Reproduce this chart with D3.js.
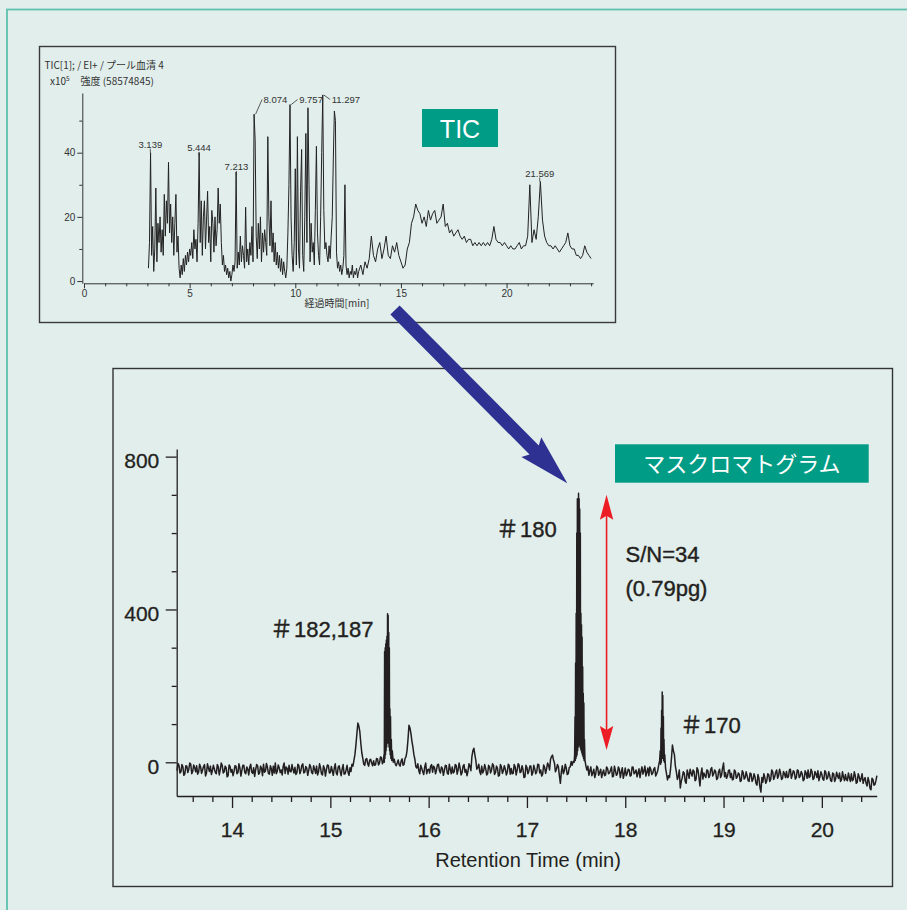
<!DOCTYPE html>
<html>
<head>
<meta charset="utf-8">
<title>TIC / マスクロマトグラム</title>
<script src="https://d3js.org/d3.v7.min.js"></script>
<style>
  body { margin: 0; background: #e1eeeb; }
  svg { display: block; }
</style>
</head>
<body>
<svg id="chart" width="907" height="910"></svg>

<script>
// ---------------- data ----------------

// TIC (upper panel): intensity x10^5, sampled every 0.05 min from 3.05 to 12.95
var ticEarlyT0 = 3.05, ticEarlyStep = 0.05;
var ticEarly = [
  4, 12, 40, 8, 17, 3, 10, 29, 6, 18, 12, 20, 9, 16, 8, 27, 14, 25, 18, 37,      // 3.05 - 4.00
  15, 24, 12, 20, 8, 18, 27, 9, 14, 4, 1, 5, 2, 7, 3, 8, 5, 9, 6, 10,             // 4.05 - 5.00
  8, 12, 7, 16, 10, 13, 6, 18, 40, 12, 25, 8, 20, 25, 10, 19, 28, 12, 17, 6,      // 5.05 - 6.00
  22, 18, 9, 20, 11, 16, 29, 18, 24, 12, 5, 8, 3, 5, 2, 4, 1, 3, 0, 2,            // 6.05 - 7.00
  5, 3, 6, 34, 4, 9, 5, 14, 6, 11, 8, 4, 23, 6, 10, 5, 12, 8, 17, 6,              // 7.05 - 8.00
  52, 44, 14, 7, 18, 10, 20, 6, 15, 9, 16, 12, 8, 45, 20, 11, 25, 9, 15, 6,       // 8.05 - 9.00
  12, 5, 9, 4, 8, 3, 7, 2, 6, 3, 1, 4, 15, 30, 55, 20, 8, 3, 12, 35,              // 9.05 - 10.00
  5, 45, 10, 4, 28, 41, 8, 3, 20, 46, 12, 54, 30, 6, 18, 9, 12, 5, 22, 42,        // 10.05 - 11.00
  15, 8, 5, 20, 40, 58, 22, 10, 12, 8, 6, 11, 7, 14, 20, 38, 53, 50, 9, 4,        // 11.05 - 12.00
  6, 3, 5, 2, 4, 8, 30, 5, 2, 4, 1, 3, 2, 5, 1, 3, 2, 4, 1                         // 12.05 - 12.95
];
// TIC, sampled every 0.1 min from 13.0 to 24.0
var ticLateT0 = 13.0, ticLateStep = 0.1;
var ticLate = [
  3, 5, 2, 6, 4, 7, 14, 8, 6, 10,          // 13
  12, 7, 10, 14, 8, 7, 11, 9, 12, 8,       // 14
  6, 4, 5, 10, 12, 18, 20, 24, 22, 21,     // 15
  18, 20, 17, 22, 19, 21, 22, 18, 19, 20,  // 16
  24, 17, 18, 15, 16, 14, 15, 16, 14, 13,  // 17
  14, 12, 13, 13, 11, 12, 11, 12, 11, 12,  // 18
  11, 12, 11, 13, 17, 13, 12, 12, 11, 12,  // 19
  11, 10, 11, 10, 10, 11, 12, 10, 11, 11,  // 20
  14, 30, 12, 16, 13, 20, 31, 19, 14, 12,  // 21
  11, 11, 10, 11, 10, 9, 10, 11, 12, 15,   // 22
  11, 10, 10, 8, 8, 7, 8, 11, 9, 8,        // 23
  7
];
var ticPeakTimes  = [3.139, 5.444, 7.213, 8.074, 9.757, 11.297, 21.569];
var ticPeakTops   = [40, 39, 33, 52, 55, 58, 31];
var ticPeakLabels = ["3.139", "5.444", "7.213", "8.074", "9.757", "11.297", "21.569"];
var ticPeakLeader = [false, false, false, true, true, true, false];
var ticXTicks = [0, 5, 10, 15, 20];
var ticXMinor = [1, 2, 3, 4, 6, 7, 8, 9, 11, 12, 13, 14, 16, 17, 18, 19, 21, 22, 23, 24];
var ticYTicks = [0, 20, 40];
var ticYMinor = [10, 30, 50];

// Mass chromatogram (lower panel): baseline read every 0.02 min from 13.44 to 20.56
var massT0 = 13.44, massStep = 0.02;
var massBase = [
  -22, -8, -25, -12, -30, -10, -18, -5, -24, -14,    // 13.44
  -9, -26, -12, -20, -6, -28, -15, -10, -22, -17,    // 13.64
  -30, -12, -20, -8, -25, -14, -35, -11, -19, -24,   // 13.84
  -10, -27, -15, -21, -8, -30, -18, -12, -26, -14,   // 14.04
  -20, -9, -28, -16, -5, -23, -13, -31, -17, -10,    // 14.24
  -2, -24, -14, -20, -11, -29, -16, -8, -25, -19,    // 14.44
  -13, -27, -9, -22, -4, -26, -15, -21, -12, -30,    // 14.64
  -18, -10, -25, -14, -33, -16, -20, -8, -27, -22,   // 14.84
  -15, -28, -12, -24, -17, -31, -20, -26, -14, -5,   // 15.04
  5, 45, 103, 80, 25, -5, 8, -4, 6, -2,              // 15.24
  4, -6, 9, -2, 12, 2, 6, 0, -4, 5,                  // 15.44
  -3, 8, -2, -6, 3, -8, 10, 30, 97, 75,              // 15.64
  40, 8, -15, -22, -8, -25, -12, -30, -18, -10,      // 15.84
  -26, -14, -20, -5, -28, -16, -22, -9, -31, -18,    // 16.04
  -12, -25, -8, -20, -15, -27, -6, -19, -24, -10,    // 16.24
  15, 37, 5, -14, -25, -10, -22, -16, -30, -12,      // 16.44
  -20, -8, -27, -15, -34, -11, -22, -18, -26, -9,    // 16.64
  -16, -29, -12, -21, -7, -25, -19, -38, -14, -22,   // 16.84
  -10, -27, -18, -24, -6, -20, -31, -13, -17, -8,    // 17.04
  8, 19, -2, -18, -12, -55, -9, -23, -15, -30,       // 17.24
  -12, -4, -8, 0, -6, -10, -15, -20, -28, -10,       // 17.44
  -22, -35, -18, -30, -14, -26, -40, -20, -33, -16,  // 17.64
  -28, -12, -36, -22, -30, -18, -25, -42, -15, -29,  // 17.84
  -20, -34, -13, -27, -38, -17, -24, -31, -10, -26,  // 18.04
  -35, -19, -28, -14, -30, -18, -25, -10, -8, -20,   // 18.24
  -30, -20, 45, 20, -25, -38, -67, -40, -28, -55,    // 18.44
  -30, -18, -36, -24, -45, -20, -62, -15, -28, -40,  // 18.64
  -22, -35, -14, -30, -25, -42, -18, -33, -2, -27,   // 18.84
  -36, -20, -29, -44, -24, -38, -31, -48, -27, -40,  // 19.04
  -35, -50, -30, -45, -38, -60, -42, -78, -52, -40,  // 19.24
  -48, -32, -44, -25, -38, -20, -35, -28, -42, -30,  // 19.44
  -24, -38, -18, -33, -26, -40, -22, -36, -30, -45,  // 19.64
  -28, -20, -37, -25, -42, -30, -22, -38, -32, -47,  // 19.84
  -26, -40, -34, -50, -30, -44, -36, -28, -46, -38,  // 20.04
  -32, -48, -40, -30, -45, -35, -52, -38, -42, -55,  // 20.24
  -40, -62, -50, -72, -45, -58, -35                  // 20.44
];
// in-between readings of the noisy baseline, every 0.02 min from 13.45 to 20.55
var massMidT0 = 13.45;
var massMid = [
  -3, -28, -6, -34, -9, -27, -2, -30, -7, -25,       // 13.45
  -31, -5, -29, -11, -36, -4, -24, -32, -8, -27,     // 13.65
  -6, -33, -2, -28, -10, -38, -7, -26, -35, -9,      // 13.85
  -30, -4, -36, -8, -27, -12, -33, -5, -29, -37,     // 14.05
  -6, -31, -10, -35, -26, -3, -29, -9, -34, -28,     // 14.25
  -30, -7, -27, -33, -2, -12, -31, -24, -6, -28,     // 14.45
  -32, -5, -30, -8, -28, -11, -34, -6, -27, -9,      // 14.65
  -29, -33, -4, -30, -9, -36, -7, -28, -11, -34,     // 14.85
  -4, -33, -9, -35, -6, -30, -8, -34, -24, -10,      // 15.05
  20, 75, 95, 50, 10, -8, 10, -10, 8, -9,            // 15.25
  -8, 10, -7, 14, -4, 10, -6, 12, -10, 8,            // 15.45
  10, -9, 6, -10, 9, -5, 15, 60, 90, 55,             // 15.65
  20, -12, -4, -30, -16, -32, -2, -20, -28, -6,      // 15.85
  -10, -30, -6, -22, -12, -34, -8, -29, -5, -30,     // 16.05
  -28, -6, -31, -2, -33, -10, -26, -35, -4, -22,     // 16.25
  30, 20, -18, -5, -32, -28, -6, -33, -8, -28,       // 16.45
  -4, -32, -10, -36, -6, -29, -9, -33, -5, -31,      // 16.65
  -30, -6, -33, -4, -27, -9, -40, -8, -30, -10,      // 16.85
  -34, -8, -30, -5, -28, -36, -7, -29, -2, -20,      // 17.05
  15, 6, -25, -6, -35, -25, -30, -5, -32, -14,       // 17.25
  2, -14, 5, -12, -20, -4, -30, -8, -18, -34,        // 17.45
  -12, -28, -40, -10, -34, -18, -28, -35, -12, -30,  // 17.65
  -20, -38, -10, -34, -12, -40, -14, -30, -35, -18,  // 17.85
  -36, -12, -30, -20, -28, -40, -12, -22, -36, -15,  // 18.05
  -12, -32, -18, -36, -10, -32, -12, -28, -30, -14,  // 18.25
  -40, 10, 30, -10, -45, -20, -50, -25, -50, -20,    // 18.45
  -42, -28, -20, -48, -14, -40, -30, -44, -35, -20,  // 18.65
  -40, -18, -36, -20, -45, -24, -40, -15, -38, -42,  // 18.85
  -22, -40, -46, -20, -42, -28, -50, -22, -44, -25,  // 19.05
  -48, -28, -50, -30, -55, -32, -65, -40, -30, -55,  // 19.25
  -30, -50, -20, -45, -26, -42, -18, -45, -24, -40,  // 19.45
  -40, -20, -42, -22, -44, -20, -40, -24, -48, -22,  // 19.65
  -42, -40, -18, -45, -24, -40, -48, -25, -44, -22,  // 19.85
  -44, -25, -48, -28, -50, -26, -42, -50, -25, -48,  // 20.05
  -45, -28, -50, -48, -25, -55, -30, -50, -30, -45,  // 20.25
  -55, -40, -68, -42, -60, -48                       // 20.45
];
// finely sampled peaks [time, intensity]
var peak182 = [
  [15.54, 2], [15.546, 20], [15.549, 0], [15.552, 290], [15.555, 10], [15.558, 300],
  [15.561, 20], [15.564, 310], [15.567, 30], [15.57, 320], [15.573, 40], [15.576, 330],
  [15.579, 50], [15.582, 389], [15.585, 60], [15.588, 385], [15.591, 50], [15.594, 340],
  [15.597, 40], [15.60, 300], [15.603, 30], [15.606, 140], [15.609, 20], [15.612, 120],
  [15.616, 10], [15.62, 60], [15.625, 5], [15.63, 30], [15.64, 0], [15.65, 8], [15.66, -4]
];
var peak180 = [
  [17.46, -8], [17.47, 2], [17.48, 0], [17.485, 20], [17.489, 119], [17.492, 5],
  [17.495, 260], [17.498, 10], [17.501, 390], [17.504, 15], [17.507, 600], [17.51, 20],
  [17.513, 690], [17.516, 30], [17.519, 680], [17.522, 40], [17.525, 704], [17.528, 50],
  [17.531, 690], [17.534, 45], [17.537, 663], [17.54, 40], [17.543, 600], [17.546, 35],
  [17.549, 390], [17.552, 30], [17.555, 360], [17.558, 25], [17.561, 328], [17.564, 20],
  [17.567, 250], [17.57, 15], [17.573, 180], [17.576, 10], [17.579, 155], [17.582, 5],
  [17.585, 60], [17.59, 6], [17.60, -10], [17.61, -20]
];
var peak170 = [
  [18.33, -22], [18.34, -8], [18.35, 5], [18.356, 30], [18.36, -5], [18.364, 90],
  [18.367, 0], [18.37, 136], [18.373, 10], [18.376, 184], [18.379, 15], [18.382, 175],
  [18.385, 10], [18.388, 120], [18.391, 5], [18.394, 60], [18.398, 0], [18.402, 20],
  [18.41, -15], [18.42, -30], [18.43, -46], [18.44, -35]
];
var massXTicks = [14, 15, 16, 17, 18, 19, 20];
var massXMinor = [13.6, 13.8, 14.2, 14.4, 14.6, 14.8, 15.2, 15.4, 15.6, 15.8, 16.2, 16.4, 16.6, 16.8,
                  17.2, 17.4, 17.6, 17.8, 18.2, 18.4, 18.6, 18.8, 19.2, 19.4, 19.6, 19.8, 20.2, 20.4];
var massYTicks = [0, 400, 800];
var massYMinor = [100, 200, 300, 500, 600, 700];

// ---------------- drawing ----------------

var LAT = '"Liberation Sans", Arial, Helvetica, sans-serif';
var JP = '"Noto Sans CJK JP", sans-serif';
var INK = "#231f20";
var TEAL = "#009c86";

var svg = d3.select("#chart");

// outer frame
svg.append("rect")
    .attr("x", 7).attr("y", 9.5).attr("width", 1000).attr("height", 1000)
    .attr("fill", "none").attr("stroke", "#5fc0ae").attr("stroke-width", 1.8);

function styleAxis(g, color, fontSize, family, width) {
    g.select(".domain").attr("stroke", color).attr("stroke-width", width);
    g.selectAll(".tick line").attr("stroke", color).attr("stroke-width", width);
    g.selectAll(".tick text").attr("fill", color)
        .attr("font-size", fontSize).attr("font-family", family);
}

// ===== TIC panel =====
svg.append("rect")
    .attr("x", 39.5).attr("y", 46.5).attr("width", 576).attr("height", 276)
    .attr("fill", "none").attr("stroke", "#3a3a3a").attr("stroke-width", 1.4);

var tx = d3.scaleLinear().domain([0, 24.1]).range([84, 593.2]);
var ty = d3.scaleLinear().domain([-0.7, 58.6]).range([283.3, 93]);

var ticData = ticEarly.map(function(v, i) { return [ticEarlyT0 + i * ticEarlyStep, v]; })
    .concat(ticLate.map(function(v, i) { return [ticLateT0 + i * ticLateStep, v]; }));

svg.append("path")
    .datum(ticData)
    .attr("fill", "none")
    .attr("stroke", "#222")
    .attr("stroke-width", 1)
    .attr("stroke-linejoin", "round")
    .attr("d", d3.line().x(function(d) { return tx(d[0]); }).y(function(d) { return ty(d[1]); }));

var gtx = svg.append("g").attr("transform", "translate(0,283.3)")
    .call(d3.axisBottom(tx).tickValues(ticXTicks).tickSize(5).tickSizeOuter(0).tickPadding(1.5));
styleAxis(gtx, "#333", 10, LAT, 1);
var gtxm = svg.append("g").attr("transform", "translate(0,283.3)")
    .call(d3.axisBottom(tx).tickValues(ticXMinor).tickSize(3).tickFormat(""));
gtxm.select(".domain").remove();
styleAxis(gtxm, "#333", 10, LAT, 1);

var gty = svg.append("g").attr("transform", "translate(82.3,0)")
    .call(d3.axisLeft(ty).tickValues(ticYTicks).tickSize(5).tickSizeOuter(0).tickPadding(2));
styleAxis(gty, "#333", 10, LAT, 1);
var gtym = svg.append("g").attr("transform", "translate(82.3,0)")
    .call(d3.axisLeft(ty).tickValues(ticYMinor).tickSize(3).tickFormat(""));
gtym.select(".domain").remove();
styleAxis(gtym, "#333", 10, LAT, 1);

svg.append("text").attr("x", 337).attr("y", 306.5)
    .attr("text-anchor", "middle").attr("font-family", JP).attr("font-size", 10)
    .attr("fill", "#333").text("経過時間[min]");

// header
svg.append("text").attr("x", 44.5).attr("y", 69)
    .attr("font-family", JP).attr("font-size", 10).attr("fill", "#333")
    .text("TIC[1]; / EI+ / プール血清 4");
var h2 = svg.append("text").attr("x", 50).attr("y", 85)
    .attr("font-family", JP).attr("font-size", 10).attr("fill", "#333");
h2.append("tspan").text("x10");
h2.append("tspan").attr("dy", -4).attr("font-size", 6.5).text("5");
svg.append("text").attr("x", 80.5).attr("y", 85)
    .attr("font-family", JP).attr("font-size", 10).attr("fill", "#333")
    .text("強度 (58574845)");

// peak labels
ticPeakTimes.forEach(function(t, i) {
    var px = tx(t), py = ty(ticPeakTops[i]);
    if (ticPeakLeader[i]) {
        var lx = px + 9;
        svg.append("line").attr("x1", px + 1).attr("y1", py)
            .attr("x2", lx - 1.5).attr("y2", 99.5)
            .attr("stroke", "#333").attr("stroke-width", 0.8);
        svg.append("text").attr("x", lx).attr("y", 102.5)
            .attr("font-family", LAT).attr("font-size", 9.5).attr("fill", "#333")
            .text(ticPeakLabels[i]);
    } else {
        svg.append("line").attr("x1", px).attr("y1", py)
            .attr("x2", px).attr("y2", py - 4)
            .attr("stroke", "#333").attr("stroke-width", 0.8);
        svg.append("text").attr("x", px).attr("y", py - 5)
            .attr("text-anchor", "middle")
            .attr("font-family", LAT).attr("font-size", 9.5).attr("fill", "#333")
            .text(ticPeakLabels[i]);
    }
});

// TIC tag
svg.append("rect").attr("x", 422).attr("y", 109).attr("width", 76).attr("height", 38)
    .attr("fill", TEAL);
svg.append("text").attr("x", 460).attr("y", 137.5).attr("text-anchor", "middle")
    .attr("font-family", LAT).attr("font-size", 25).attr("fill", "#fff").text("TIC");

// ===== Mass chromatogram panel =====
svg.append("rect")
    .attr("x", 113).attr("y", 368.5).attr("width", 779.5).attr("height", 518)
    .attr("fill", "none").attr("stroke", "#333").attr("stroke-width", 1.4);

var mx = d3.scaleLinear().domain([13.437, 20.558]).range([176.7, 876.7]);
var my = d3.scaleLinear().domain([-88.2, 820]).range([796, 449]);

var peaks = [peak182, peak180, peak170];
var massData = massBase.map(function(v, i) { return [massT0 + i * massStep, v]; })
    .concat(massMid.map(function(v, i) { return [massMidT0 + i * massStep, v]; }))
    .filter(function(d) {
        return !peaks.some(function(p) {
            return d[0] >= p[0][0] - 1e-6 && d[0] <= p[p.length - 1][0] + 1e-6;
        });
    });
peaks.forEach(function(p) { massData = massData.concat(p); });
massData.sort(function(a, b) { return a[0] - b[0]; });

svg.append("path")
    .datum(massData)
    .attr("fill", "none")
    .attr("stroke", INK)
    .attr("stroke-width", 1.5)
    .attr("stroke-linejoin", "round")
    .attr("d", d3.line().x(function(d) { return mx(d[0]); }).y(function(d) { return my(d[1]); }));

var gmx = svg.append("g").attr("transform", "translate(0,796)")
    .call(d3.axisBottom(mx).tickValues(massXTicks).tickSize(12).tickSizeOuter(0));
styleAxis(gmx, INK, 21, LAT, 1.3);
gmx.selectAll(".tick text").attr("y", 40.7).attr("dy", null)
    .attr("stroke", INK).attr("stroke-width", 0.3);
var gmxm = svg.append("g").attr("transform", "translate(0,796)")
    .call(d3.axisBottom(mx).tickValues(massXMinor).tickSize(6).tickFormat(""));
gmxm.select(".domain").remove();
styleAxis(gmxm, INK, 21, LAT, 1.3);

var gmy = svg.append("g").attr("transform", "translate(176.7,0)")
    .call(d3.axisLeft(my).tickValues(massYTicks).tickSize(11).tickSizeOuter(0));
styleAxis(gmy, INK, 21, LAT, 1.3);
gmy.selectAll(".tick text").attr("x", -17.4).attr("dy", "0.52em")
    .attr("stroke", INK).attr("stroke-width", 0.3);
var gmym = svg.append("g").attr("transform", "translate(176.7,0)")
    .call(d3.axisLeft(my).tickValues(massYMinor).tickSize(5).tickFormat(""));
gmym.select(".domain").remove();
styleAxis(gmym, INK, 21, LAT, 1.3);

svg.append("text").attr("x", 528).attr("y", 867).attr("text-anchor", "middle")
    .attr("font-family", LAT).attr("font-size", 20).attr("fill", INK)
    .text("Retention Time (min)");

// compound labels
function hashLabel(x, y, num) {
    var t = svg.append("text").attr("x", x).attr("y", y).attr("fill", INK).attr("font-size", 22)
        .attr("stroke", INK).attr("stroke-width", 0.4);
    t.append("tspan").attr("font-family", JP).attr("font-size", 23).text("＃");
    t.append("tspan").attr("font-family", LAT).attr("dx", 1).text(num);
}
hashLabel(270, 636.5, "182,187");
hashLabel(496, 536.5, "180");
hashLabel(680, 732.5, "170");

svg.append("text").attr("x", 625.5).attr("y", 561.5)
    .attr("font-family", LAT).attr("font-size", 22).attr("fill", INK)
    .attr("stroke", INK).attr("stroke-width", 0.4).text("S/N=34");
svg.append("text").attr("x", 625.5).attr("y", 596)
    .attr("font-family", LAT).attr("font-size", 22).attr("fill", INK)
    .attr("stroke", INK).attr("stroke-width", 0.4).text("(0.79pg)");

// red S/N arrow
var sx = mx(17.81), sTop = my(700), sBot = my(32);
var RED = "#ed1c24";
svg.append("line").attr("x1", sx).attr("x2", sx).attr("y1", sTop + 10).attr("y2", sBot - 10)
    .attr("stroke", RED).attr("stroke-width", 1.6);
svg.append("path")
    .attr("d", "M" + sx + "," + sTop + "L" + (sx - 6.7) + "," + (sTop + 25) + "L" + sx + "," + (sTop + 21) +
               "L" + (sx + 6.7) + "," + (sTop + 25) + "Z")
    .attr("fill", RED);
svg.append("path")
    .attr("d", "M" + sx + "," + sBot + "L" + (sx - 6.7) + "," + (sBot - 24) + "L" + sx + "," + (sBot - 20) +
               "L" + (sx + 6.7) + "," + (sBot - 24) + "Z")
    .attr("fill", RED);

// mass chromatogram tag
svg.append("rect").attr("x", 615).attr("y", 444.3).attr("width", 253.7).attr("height", 38.4)
    .attr("fill", TEAL);
svg.append("text").attr("x", 741.8).attr("y", 472).attr("text-anchor", "middle")
    .attr("font-family", JP).attr("font-size", 22).attr("fill", "#fff").text("マスクロマトグラム");

// blue arrow from TIC to mass chromatogram
(function() {
    var x0 = 395, y0 = 310, x1 = 567.3, y1 = 483.3;
    var len = Math.hypot(x1 - x0, y1 - y0);
    var ux = (x1 - x0) / len, uy = (y1 - y0) / len;
    var nx = -uy, ny = ux;
    var sw = 6.5, hw = 14, hl = 51;
    var bx = x1 - ux * hl, by = y1 - uy * hl;
    var pts = [
        [x0 + nx * sw, y0 + ny * sw],
        [bx + ux * 4 + nx * sw, by + uy * 4 + ny * sw],
        [bx + nx * hw, by + ny * hw],
        [x1, y1],
        [bx - nx * hw, by - ny * hw],
        [bx + ux * 4 - nx * sw, by + uy * 4 - ny * sw],
        [x0 - nx * sw, y0 - ny * sw]
    ];
    svg.append("path").attr("d", "M" + pts.join("L") + "Z").attr("fill", "#2e3192");
})();
</script>
</body>
</html>
